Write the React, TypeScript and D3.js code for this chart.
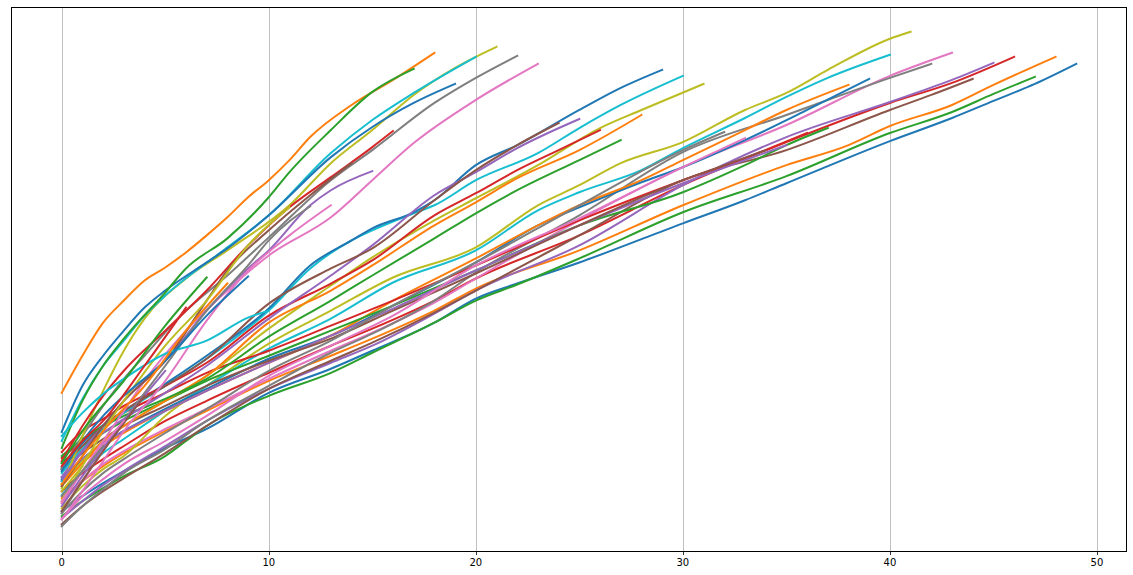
import { useEffect, useRef } from 'react'
import * as d3 from 'd3'

type Pt = [number, number]

// one series per run as [step, value] pairs
const s00: Pt[] = [[0,4.1],[1,5.6],[2,6.9],[3,8.1],[5,10.4],[7,12.3],[10,15.9],[13,18.3],[15,20.1],[18,22.9],[20,25.3],[22,26.8],[25,28.9],[30,32.8],[33,35.1],[35,36.8],[40,41.0],[43,43.3],[45,45.0],[47,46.7],[49,48.7]]
const s01: Pt[] = [[0,5.4],[1,7.1],[2,8.6],[3,9.9],[5,12.1],[7,14.1],[10,17.1],[13,19.6],[15,21.3],[18,24.1],[20,26.3],[25,30.1],[30,34.6],[35,38.6],[38,40.6],[40,42.5],[43,44.6],[45,46.6],[48,49.4]]
const s02: Pt[] = [[0,3.6],[1,5.1],[2,6.4],[3,7.6],[5,9.6],[6,11.1],[7,12.6],[10,15.6],[13,17.9],[15,19.9],[18,22.9],[20,25.1],[22,26.7],[25,29.3],[30,33.9],[35,37.5],[40,41.8],[43,43.9],[45,45.7],[47,47.4]]
const s03: Pt[] = [[0,6.1],[1,7.9],[2,9.3],[3,10.6],[5,13.1],[7,15.1],[10,17.9],[13,20.6],[15,22.3],[18,25.1],[20,27.3],[25,31.6],[30,36.6],[35,40.9],[40,44.8],[43,46.8],[46,49.4]]
const s04: Pt[] = [[0,3.4],[1,5.1],[2,6.7],[3,8.1],[5,10.6],[7,13.1],[10,16.3],[13,18.9],[15,20.6],[18,23.8],[20,26.1],[25,30.6],[30,36.6],[35,41.4],[40,44.9],[43,47.1],[45,48.8]]
const s05: Pt[] = [[0,2.8],[1,4.6],[2,6.1],[3,7.4],[5,9.9],[7,12.6],[10,16.3],[13,19.1],[15,20.9],[18,23.9],[20,26.1],[25,31.6],[30,37.1],[35,40.1],[40,44.1],[42,45.6],[44,47.2]]
const s06: Pt[] = [[0,4.9],[1,7.1],[2,8.8],[3,10.1],[5,12.3],[7,14.3],[10,17.3],[13,20.1],[15,21.9],[18,24.9],[20,27.3],[25,33.1],[30,38.4],[35,42.6],[40,47.5],[43,49.8]]
const s07: Pt[] = [[0,2.6],[1,4.6],[2,6.3],[3,7.9],[5,10.3],[7,13.1],[10,16.6],[13,19.9],[15,21.8],[18,25.1],[20,27.9],[25,33.6],[30,39.9],[35,43.6],[40,47.3],[42,48.7]]
const s08: Pt[] = [[0,4.4],[1,6.6],[2,8.3],[3,9.6],[5,13.6],[7,16.6],[10,20.8],[13,24.1],[16,27.4],[20,30.4],[23,34.6],[25,36.6],[27,38.8],[30,40.9],[33,44.1],[35,45.8],[37,48.1],[40,51.2],[41,51.9]]
const s09: Pt[] = [[0,5.7],[1,8.1],[2,9.9],[3,11.3],[5,14.1],[7,16.6],[10,20.3],[13,23.3],[16,26.9],[20,30.1],[23,34.1],[25,35.9],[28,38.1],[30,40.3],[33,43.3],[35,45.4],[37,47.3],[40,49.6]]
const s10: Pt[] = [[0,7.3],[1,9.3],[2,10.9],[3,12.1],[5,14.3],[7,16.3],[10,19.3],[13,21.6],[16,24.6],[20,28.9],[23,32.6],[25,34.4],[28,36.9],[30,38.4],[33,41.1],[36,44.1],[39,47.2]]
const s11: Pt[] = [[0,6.8],[1,8.9],[2,10.6],[3,11.9],[5,14.1],[7,16.1],[10,18.9],[13,21.6],[16,25.1],[20,29.3],[23,32.6],[25,34.6],[28,37.1],[30,39.1],[33,42.1],[35,44.1],[38,46.6]]
const s12: Pt[] = [[0,8.9],[1,10.6],[2,11.9],[3,13.1],[5,15.1],[7,17.1],[10,19.6],[13,22.1],[16,24.6],[20,28.1],[25,32.6],[30,35.9],[33,38.6],[35,40.6],[37,42.3]]
const s13: Pt[] = [[0,9.4],[1,11.1],[2,12.6],[3,13.9],[5,15.9],[7,17.9],[10,20.1],[13,22.6],[16,25.1],[20,28.6],[25,33.1],[30,37.1],[33,39.3],[36,41.8]]
const s14: Pt[] = [[0,7.5],[1,9.3],[2,10.9],[3,12.1],[5,14.1],[7,16.1],[10,18.9],[13,21.6],[16,24.3],[20,28.1],[25,32.6],[30,36.8],[33,39.1],[35,40.6]]
const s15: Pt[] = [[0,8.3],[1,9.9],[2,11.3],[3,12.6],[5,14.6],[7,16.6],[10,19.1],[13,21.3],[16,24.1],[20,27.8],[25,32.6],[30,37.1],[32,38.6],[34,40.1]]
const s16: Pt[] = [[0,3.3],[1,5.6],[2,7.3],[3,8.8],[5,11.1],[7,13.6],[10,17.6],[13,20.6],[16,23.6],[20,28.6],[25,33.3],[30,38.4],[33,41.3]]
const s17: Pt[] = [[0,3.9],[1,6.1],[2,7.9],[3,9.3],[5,11.9],[7,14.3],[10,18.1],[13,21.1],[16,24.6],[20,28.9],[25,34.6],[30,40.1],[32,41.9]]
const s18: Pt[] = [[0,6.8],[1,9.1],[2,11.1],[3,12.6],[5,15.1],[7,17.6],[10,22.3],[13,26.6],[15,29.4],[18,33.1],[20,35.3],[23,38.6],[26,42.3],[28,44.1],[31,46.7]]
const s19: Pt[] = [[0,7.9],[1,10.3],[2,12.3],[3,13.9],[5,16.6],[7,19.3],[10,24.1],[12,28.3],[14,31.1],[15,32.1],[17,33.8],[18,34.6],[20,37.1],[23,39.8],[25,42.3],[27,44.6],[30,47.5]]
const s20: Pt[] = [[0,8.5],[1,10.9],[2,12.7],[3,14.1],[5,16.8],[7,19.6],[10,24.3],[12,28.6],[14,31.1],[15,32.3],[17,33.9],[18,35.1],[20,38.6],[22,40.6],[25,44.1],[27,46.3],[29,48.1]]
const s21: Pt[] = [[0,6.6],[1,8.9],[2,11.1],[3,12.6],[5,15.1],[7,17.6],[10,22.9],[13,26.1],[15,28.6],[18,32.6],[20,34.9],[22,37.3],[25,40.1],[28,43.6]]
const s22: Pt[] = [[0,9.6],[1,11.3],[2,12.6],[3,13.6],[5,15.3],[7,17.3],[10,21.5],[13,25.1],[15,27.6],[18,31.3],[20,33.8],[22,36.1],[25,39.1],[27,41.1]]
const s23: Pt[] = [[0,10.0],[1,12.1],[2,13.3],[3,14.6],[5,16.6],[7,18.9],[10,23.6],[13,26.8],[15,29.1],[18,33.6],[20,35.8],[22,38.1],[24,40.1],[26,42.1]]
const s24: Pt[] = [[0,7.5],[1,10.1],[2,11.9],[3,13.3],[5,15.9],[7,18.6],[10,23.3],[13,27.6],[15,30.6],[18,35.6],[20,37.9],[22,40.3],[25,43.2]]
const s25: Pt[] = [[0,8.3],[1,10.6],[2,12.6],[3,14.1],[5,16.6],[7,19.3],[10,24.8],[13,28.3],[15,30.3],[18,35.1],[20,38.1],[22,40.6],[24,42.8]]
const s26: Pt[] = [[0,4.9],[1,8.1],[2,11.1],[3,14.1],[4,17.1],[6,22.1],[8,26.1],[10,29.6],[13,33.4],[15,37.1],[17,40.8],[20,45.1],[23,48.7]]
const s27: Pt[] = [[0,8.3],[1,11.6],[2,14.6],[3,17.3],[4,19.6],[6,24.1],[8,27.6],[10,31.4],[13,37.1],[15,40.1],[18,44.8],[20,47.3],[22,49.5]]
const s28: Pt[] = [[0,6.4],[1,11.6],[2,16.1],[3,20.1],[4,23.3],[6,27.3],[8,30.1],[11,34.6],[13,38.8],[15,42.1],[17,45.6],[19,48.3],[21,50.4]]
const s29: Pt[] = [[0,11.1],[1,15.3],[2,18.6],[3,21.1],[4,23.6],[5,25.6],[8,30.4],[10,33.6],[13,39.8],[15,43.1],[17,45.8],[20,49.4]]
const s30: Pt[] = [[0,12.0],[1,16.6],[2,19.6],[3,22.1],[4,24.4],[5,26.1],[7,28.9],[8,30.3],[10,33.6],[13,39.4],[15,42.4],[17,44.8],[19,46.7]]
const s31: Pt[] = [[0,15.9],[1,19.6],[2,22.9],[3,25.1],[4,27.1],[5,28.4],[6,29.9],[7,31.6],[8,33.4],[9,35.4],[10,37.1],[11,39.1],[12,41.4],[14,44.6],[16,47.1],[18,49.8]]
const s32: Pt[] = [[0,10.4],[1,15.1],[2,18.6],[3,21.3],[5,25.9],[6,28.3],[8,31.3],[10,35.4],[11,37.9],[13,42.1],[15,45.9],[17,48.2]]
const s33: Pt[] = [[0,9.1],[1,12.6],[2,15.6],[3,18.1],[5,22.1],[7,26.1],[9,30.6],[11,34.4],[13,37.4],[15,40.4],[16,42.0]]
const s34: Pt[] = [[0,7.1],[1,10.1],[2,12.6],[3,15.1],[5,19.1],[7,24.1],[9,28.3],[10,30.1],[12,34.6],[13,36.1],[15,38.0]]
const s35: Pt[] = [[0,6.6],[1,9.6],[2,12.6],[3,15.1],[5,19.1],[7,25.1],[8,28.1],[10,32.1],[12,35.6],[14,38.8]]
const s36: Pt[] = [[0,3.3],[1,6.1],[2,9.1],[3,12.1],[5,17.1],[7,23.1],[9,28.1],[11,31.6],[13,34.6]]
const s37: Pt[] = [[0,3.9],[1,7.1],[2,10.1],[3,13.1],[5,18.6],[7,24.1],[9,28.6],[10,31.1],[12,34.5]]
const s38: Pt[] = [[0,5.1],[1,8.6],[2,12.1],[3,15.1],[5,20.6],[7,25.1],[9,30.6],[11,34.4]]
const s39: Pt[] = [[0,11.6],[1,13.9],[2,15.8],[3,17.3],[5,19.8],[7,21.1],[9,23.4],[10,24.1]]
const s40: Pt[] = [[0,8.1],[1,11.1],[2,13.6],[3,15.6],[5,19.1],[7,23.6],[9,27.5]]
const s41: Pt[] = [[0,6.8],[1,9.6],[2,12.1],[4,16.6],[6,22.1],[8,26.8]]
const s42: Pt[] = [[0,8.9],[1,12.1],[3,17.1],[5,22.6],[7,27.4]]
const s43: Pt[] = [[0,8.6],[1,11.1],[2,13.1],[4,18.6],[6,24.4]]
const s44: Pt[] = [[0,4.6],[1,7.6],[3,13.1],[5,18.1]]
const s45: Pt[] = [[0,4.1],[2,10.1],[4,15.6]]
const s46: Pt[] = [[0,5.1],[1,8.1],[3,13.1]]
const s47: Pt[] = [[0,5.6],[1,8.1],[2,10.6]]
const s48: Pt[] = [[0,6.1],[1,8.6]]
const s49: Pt[] = [[0,7.1]]

const runs: Pt[][] = [
  s00, s01, s02, s03, s04, s05, s06, s07, s08, s09,
  s10, s11, s12, s13, s14, s15, s16, s17, s18, s19,
  s20, s21, s22, s23, s24, s25, s26, s27, s28, s29,
  s30, s31, s32, s33, s34, s35, s36, s37, s38, s39,
  s40, s41, s42, s43, s44, s45, s46, s47, s48, s49,
]

const xTicks = [0, 10, 20, 30, 40, 50]

// matplotlib tab10 cycle
const colors = ['#1f77b4', '#ff7f0e', '#2ca02c', '#d62728', '#9467bd', '#8c564b', '#e377c2', '#7f7f7f', '#bcbd22', '#17becf']

export default function App() {
  const ref = useRef<SVGSVGElement>(null)

  useEffect(() => {
    if (!ref.current) return
    const svg = d3.select(ref.current)
    svg.selectAll('*').remove()

    const left = 11
    const right = 1127
    const top = 7
    const bottom = 551

    // autoscale with 5% margins, as matplotlib does
    const allX = runs.flat().map((d) => d[0])
    const allY = runs.flat().map((d) => d[1])
    const [x0, x1] = d3.extent(allX) as [number, number]
    const [y0, y1] = d3.extent(allY) as [number, number]
    const mx = (x1 - x0) * 0.05
    const my = (y1 - y0) * 0.05

    const x = d3.scaleLinear().domain([x0 - mx, x1 + mx]).range([left, right])
    const y = d3.scaleLinear().domain([y0 - my, y1 + my]).range([bottom, top])

    svg.append('defs')
      .append('clipPath')
      .attr('id', 'plot-area')
      .append('rect')
      .attr('x', left)
      .attr('y', top)
      .attr('width', right - left)
      .attr('height', bottom - top)

    // vertical grid
    svg.append('g')
      .selectAll('line')
      .data(xTicks)
      .enter()
      .append('line')
      .attr('x1', (d) => Math.round(x(d)) + 0.5)
      .attr('x2', (d) => Math.round(x(d)) + 0.5)
      .attr('y1', top)
      .attr('y2', bottom)
      .attr('stroke', '#b0b0b0')
      .attr('stroke-width', 0.8)

    const line = d3.line<Pt>()
      .x((d) => x(d[0]))
      .y((d) => y(d[1]))
      .curve(d3.curveMonotoneX)

    svg.append('g')
      .attr('clip-path', 'url(#plot-area)')
      .selectAll('path')
      .data(runs)
      .enter()
      .append('path')
      .attr('d', (d) => line(d) || '')
      .attr('fill', 'none')
      .attr('stroke', (_d, i) => colors[i % colors.length])
      .attr('stroke-width', 2)
      .attr('stroke-linejoin', 'round')
      .attr('stroke-linecap', 'square')

    // frame
    svg.append('rect')
      .attr('x', left + 0.5)
      .attr('y', top + 0.5)
      .attr('width', right - left - 1)
      .attr('height', bottom - top)
      .attr('fill', 'none')
      .attr('stroke', '#000')
      .attr('stroke-width', 1)

    // bottom ticks and labels
    const ticks = svg.append('g')
    ticks.selectAll('line')
      .data(xTicks)
      .enter()
      .append('line')
      .attr('x1', (d) => Math.round(x(d)) + 0.5)
      .attr('x2', (d) => Math.round(x(d)) + 0.5)
      .attr('y1', bottom + 0.5)
      .attr('y2', bottom + 4)
      .attr('stroke', '#000')
      .attr('stroke-width', 0.8)

    ticks.selectAll('text')
      .data(xTicks)
      .enter()
      .append('text')
      .attr('x', (d) => x(d))
      .attr('y', bottom + 15)
      .attr('text-anchor', 'middle')
      .style('font-family', 'DejaVu Sans, sans-serif')
      .style('font-size', '10px')
      .style('fill', '#000')
      .text((d) => d)
  }, [])

  return (
    <svg
      ref={ref}
      width={1133}
      height={575}
      style={{ position: 'absolute', left: 0, top: 0, background: '#fff' }}
    />
  )
}
